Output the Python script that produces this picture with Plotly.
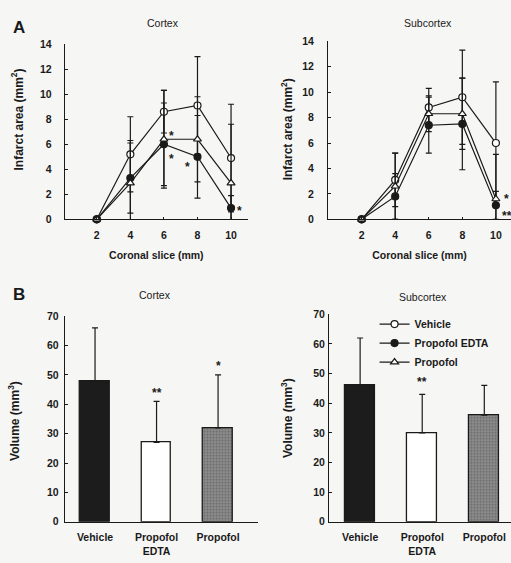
import plotly.graph_objects as go

# ---------------- data ----------------
slices = [2, 4, 6, 8, 10]

# Panel A: Cortex (infarct area, mm2)
ctx_vehicle = [0, 5.2, 8.6, 9.1, 4.9]
ctx_vehicle_sd = [0, 3.0, 1.7, 3.9, 4.3]
ctx_edta = [0, 3.3, 6.0, 5.0, 0.9]
ctx_edta_sd = [0, 2.8, 3.3, 3.3, 1.0]
ctx_prop = [0, 2.9, 6.4, 6.4, 2.9]
ctx_prop_sd = [0, 3.4, 3.9, 3.4, 4.7]

# Panel A: Subcortex
sub_vehicle = [0, 3.1, 8.8, 9.6, 6.0]
sub_vehicle_sd = [0, 2.1, 1.5, 3.7, 4.8]
sub_edta = [0, 1.8, 7.4, 7.5, 1.1]
sub_edta_sd = [0, 1.8, 2.2, 3.6, 1.1]
sub_prop = [0, 2.6, 8.3, 8.3, 1.6]
sub_prop_sd = [0, 2.6, 1.4, 2.8, 3.5]

# Panel B: volumes (mm3)
groups = ["Vehicle", "Propofol<br>EDTA", "Propofol"]
ctx_volume = [48, 27, 32]
ctx_volume_sd = [18, 14, 18]
sub_volume = [46, 30, 36]
sub_volume_sd = [16, 13, 10]

# significance marks (x, y, text)
sig_ctx_lines = [(6.45, 6.7, "*"), (6.45, 4.8, "*"), (7.4, 4.2, "*"), (10.5, 0.7, "*")]
sig_sub_lines = [(10.65, 1.6, "*"), (10.65, 0.3, "**")]
sig_ctx_bars = [(1, 44, "**"), (2, 53, "*")]
sig_sub_bars = [(1, 47, "**")]

series_names = ["Vehicle", "Propofol EDTA", "Propofol"]
bar_colors = ["#1c1c1c", "#ffffff", "#8e8e8e"]

BG = "#f6f6f4"
INK = "#1a1a1a"
FONT = "Liberation Sans, Arial, sans-serif"

fig = go.Figure()

markers = [
    dict(symbol="circle", color="white", size=7, line=dict(color=INK, width=1.2)),
    dict(symbol="circle", color=INK, size=7, line=dict(color=INK, width=1.2)),
    dict(symbol="triangle-up", color="white", size=7, line=dict(color=INK, width=1.2)),
]

def add_lines(xa, ya, ys, sds, showlegend):
    for name, y, sd, mk in zip(series_names, ys, sds, markers):
        fig.add_trace(go.Scatter(
            x=slices, y=y, name=name, mode="lines+markers",
            line=dict(color=INK, width=1.2), marker=mk,
            error_y=dict(type="data", array=sd, color=INK, thickness=1.2, width=3),
            xaxis=xa, yaxis=ya, showlegend=showlegend, cliponaxis=False,
        ))

add_lines("x", "y", [ctx_vehicle, ctx_edta, ctx_prop], [ctx_vehicle_sd, ctx_edta_sd, ctx_prop_sd], False)
add_lines("x2", "y2", [sub_vehicle, sub_edta, sub_prop], [sub_vehicle_sd, sub_edta_sd, sub_prop_sd], True)

def add_bars(xa, ya, vals, sds):
    fig.add_trace(go.Bar(
        x=[0, 1, 2], y=vals, width=0.48,
        marker=dict(color=bar_colors, line=dict(color=INK, width=1.3),
                    pattern=dict(shape=["", "", "."], fgcolor="#333333", bgcolor="#9a9a9a",
                                 size=3, solidity=0.4)),
        error_y=dict(type="data", symmetric=False, array=sds, arrayminus=[0, 0, 0],
                     color=INK, thickness=1.2, width=3),
        xaxis=xa, yaxis=ya, showlegend=False,
    ))

add_bars("x3", "y3", ctx_volume, ctx_volume_sd)
add_bars("x4", "y4", sub_volume, sub_volume_sd)

tickfont = dict(family=FONT, size=10.5, color=INK, weight="bold")
titlefont = dict(family=FONT, size=10.5, color=INK, weight="bold")
paneltitlefont = dict(family=FONT, size=10.5, color=INK)
ytitlefont = dict(family=FONT, size=12, color=INK, weight="bold")
common_y = dict(showline=True, linecolor=INK, linewidth=1.2, ticks="inside", ticklen=3,
                tickcolor=INK, showgrid=False, zeroline=False, tickfont=tickfont)
common_x = dict(showline=True, linecolor=INK, linewidth=1.2, showgrid=False, zeroline=False,
                tickfont=tickfont)

fig.update_layout(
    width=511, height=563, margin=dict(l=0, r=0, t=0, b=0),
    paper_bgcolor=BG, plot_bgcolor=BG,
    font=dict(family=FONT, size=10.5, color=INK),
    xaxis=dict(domain=[0.127, 0.485], range=[0.1, 11], tickvals=slices, ticks="inside",
               ticklen=2, tickcolor=INK, anchor="y", ticklabelstandoff=6,
               title=dict(text="Coronal slice (mm)", font=titlefont, standoff=11), **common_x),
    yaxis=dict(domain=[0.6128, 0.9307], range=[0, 14], dtick=2, anchor="x",
               ticklabelstandoff=10, **common_y),
    xaxis2=dict(domain=[0.642, 1.0], range=[0, 10.9], tickvals=slices, ticks="inside",
                ticklen=2, tickcolor=INK, anchor="y2", ticklabelstandoff=6,
                title=dict(text="Coronal slice (mm)", font=titlefont, standoff=11), **common_x),
    yaxis2=dict(domain=[0.6128, 0.936], range=[0, 14], dtick=2, anchor="x2",
                ticklabelstandoff=11, **common_y),
    xaxis3=dict(domain=[0.127, 0.505], range=[-0.49, 2.65], tickvals=[0, 1, 2], ticktext=groups,
                ticks="", anchor="y3", ticklabelstandoff=6, **common_x),
    yaxis3=dict(domain=[0.064, 0.437], range=[0, 70], dtick=10, anchor="x3",
                ticklabelstandoff=3, **common_y),
    xaxis4=dict(domain=[0.644, 1.0], range=[-0.5, 2.43], tickvals=[0, 1, 2], ticktext=groups,
                ticks="", anchor="y4", ticklabelstandoff=6, **common_x),
    yaxis4=dict(domain=[0.0639, 0.4405], range=[0, 70], dtick=10, anchor="x4",
                ticklabelstandoff=1, **common_y),
    legend=dict(x=0.733, y=0.449, xanchor="left", yanchor="top", bgcolor="rgba(0,0,0,0)",
                font=dict(family=FONT, size=10.5, color=INK, weight="bold"),
                itemwidth=30, tracegroupgap=0),
    bargap=0,
)

ann = []
for xa, ya, marks in [("x", "y", sig_ctx_lines), ("x2", "y2", sig_sub_lines),
                      ("x3", "y3", sig_ctx_bars), ("x4", "y4", sig_sub_bars)]:
    for (sx, sy, t) in marks:
        ann.append(dict(x=sx, y=sy, xref=xa, yref=ya, text=t, showarrow=False,
                        font=dict(family=FONT, size=12, color=INK, weight="bold")))

def label(x_px, y_px, text, font, angle=0, xanchor="center"):
    return dict(x=x_px / 511, y=1 - y_px / 563, xref="paper", yref="paper", text=text,
                showarrow=False, textangle=angle, xanchor=xanchor, yanchor="middle", font=font)

# axis titles (y), panel titles and letters
ann += [
    label(17, 116, "Infarct area (mm<sup>2</sup>)", ytitlefont, -90),
    label(287, 126, "Infarct area (mm<sup>2</sup>)", ytitlefont, -90),
    label(14, 424, "Volume (mm<sup>3</sup>)", ytitlefont, -90),
    label(287, 421, "Volume (mm<sup>3</sup>)", ytitlefont, -90),
    label(163, 17, "Cortex", paneltitlefont),
    label(428, 17, "Subcortex", paneltitlefont),
    label(155, 295, "Cortex", paneltitlefont),
    label(423, 297, "Subcortex", paneltitlefont),
    label(11, 22, "<b>A</b>", dict(family=FONT, size=17, color=INK), xanchor="left"),
    label(11, 295, "<b>B</b>", dict(family=FONT, size=17, color=INK), xanchor="left"),
]
fig.update_layout(annotations=ann)

fig.write_html("out.html")
